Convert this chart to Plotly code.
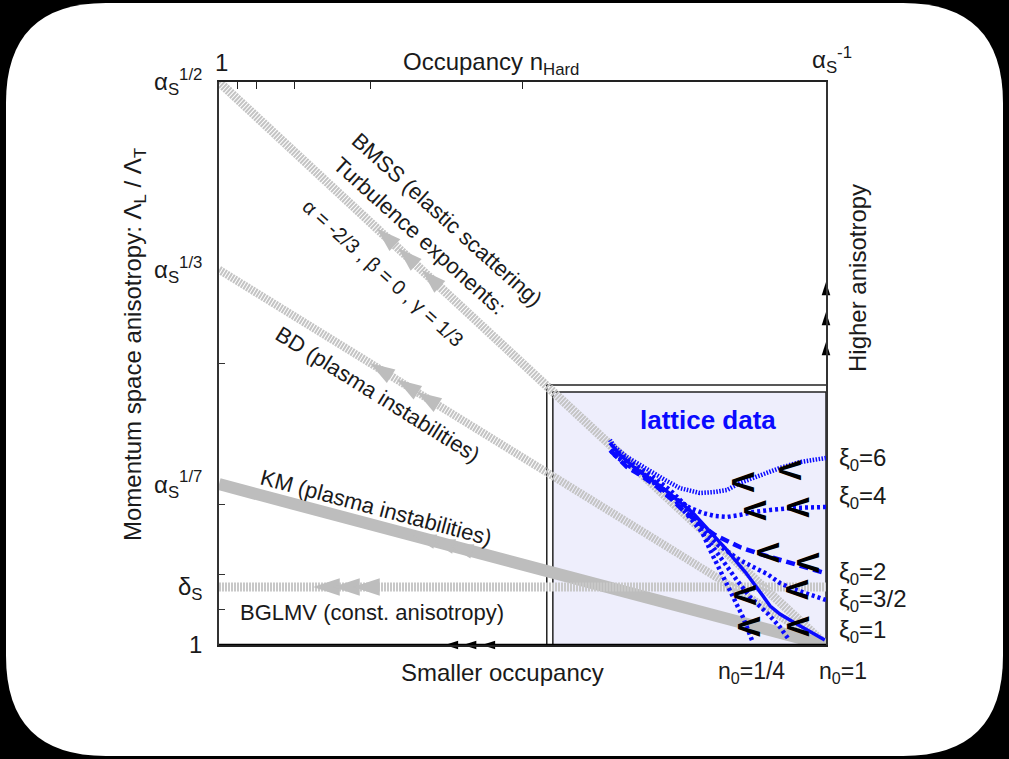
import plotly.graph_objects as go

# ---------------- data ----------------
# x: log(occupancy) / log(1/alpha_s)   (0 -> n=1 ... 1 -> n=alpha_s^-1)
# y: exponent of alpha_s in Lambda_L/Lambda_T (0 -> 1 ... 0.5 -> alpha_s^1/2)
DELTA_S = 0.0515

y_tick_vals = [0.5, 1 / 3, 1 / 7, DELTA_S, 0.0]
y_tick_text = ["α<sub>S</sub><sup>1/2</sup>", "α<sub>S</sub><sup>1/3</sup>",
               "α<sub>S</sub><sup>1/7</sup>", "δ<sub>S</sub>", "1"]
y_minor_ticks = [0.25, 0.125, 0.0625, 0.03125]
x_top_ticks = [1 / 32, 1 / 16, 1 / 8, 1 / 4, 1 / 2]

# theory scenarios (gray)
bmss_x, bmss_y = [0.0, 1.0], [0.5, 0.0]
bd_x, bd_y = [0.0, 1.0], [1 / 3, 0.0]
km_x, km_y = [0.0, 1.0], [1 / 7, 0.0]
bglmv_x, bglmv_y = [0.0, 1.0], [DELTA_S, DELTA_S]

# arrowheads on the scenario lines
bmss_arr_x, bmss_arr_y = [0.260, 0.295, 0.334], [0.370, 0.3525, 0.333]
bd_arr_x, bd_arr_y = [0.249, 0.293, 0.326], [0.2503, 0.2357, 0.2247]
km_arr_x, km_arr_y = [0.320, 0.351, 0.381], [0.0971, 0.0927, 0.0884]
bglmv_arr_x, bglmv_arr_y = [0.155, 0.188, 0.221], [DELTA_S, DELTA_S, DELTA_S]
bottom_arr_x, bottom_arr_y = [0.372, 0.402, 0.433], [0.0, 0.0, 0.0]
right_arr_x, right_arr_y = [1.0, 1.0, 1.0], [0.3224, 0.2957, 0.2691]

# lattice data curves (blue)
xi6_x = [1.0, 0.957, 0.924, 0.891, 0.858, 0.837, 0.817, 0.792, 0.759, 0.735, 0.715, 0.694, 0.672, 0.652, 0.644]
xi6_y = [0.1661, 0.1625, 0.1572, 0.1501, 0.1439, 0.1377, 0.1359, 0.1350, 0.1394, 0.1465, 0.1528, 0.1599, 0.1670, 0.1758, 0.1821]
xi4_x = [1.0, 0.946, 0.908, 0.880, 0.858, 0.837, 0.817, 0.797, 0.776, 0.764, 0.743, 0.722, 0.694, 0.672, 0.652, 0.641]
xi4_y = [0.1226, 0.1217, 0.1199, 0.1181, 0.1155, 0.1137, 0.1146, 0.1172, 0.1217, 0.1261, 0.1332, 0.1430, 0.1536, 0.1599, 0.1687, 0.1750]
xi2_x = [0.993, 0.957, 0.924, 0.886, 0.858, 0.837, 0.817, 0.801, 0.784, 0.764, 0.743, 0.722, 0.694, 0.672, 0.647]
xi2_y = [0.0648, 0.0702, 0.0755, 0.0817, 0.0870, 0.0924, 0.0977, 0.1039, 0.1110, 0.1199, 0.1306, 0.1403, 0.1510, 0.1581, 0.1714]
xi32_x = [1.0, 0.974, 0.946, 0.924, 0.903, 0.880, 0.858, 0.839, 0.822, 0.806, 0.792, 0.776, 0.755, 0.727, 0.694, 0.669, 0.647]
xi32_y = [0.0400, 0.0444, 0.0497, 0.0551, 0.0631, 0.0693, 0.0755, 0.0826, 0.0888, 0.0977, 0.1066, 0.1172, 0.1288, 0.1403, 0.1528, 0.1625, 0.1732]
xi1_x = [0.998, 0.974, 0.946, 0.924, 0.908, 0.895, 0.883, 0.867, 0.850, 0.834, 0.817, 0.801, 0.781, 0.759, 0.735, 0.710, 0.685, 0.661, 0.644]
xi1_y = [0.0044, 0.0115, 0.0204, 0.0275, 0.0346, 0.0444, 0.0533, 0.0648, 0.0755, 0.0861, 0.0959, 0.1057, 0.1172, 0.1270, 0.1377, 0.1474, 0.1572, 0.1687, 0.1794]
nq_a_x = [0.878, 0.863, 0.847, 0.830, 0.809, 0.787, 0.768, 0.743, 0.710, 0.677, 0.647]
nq_a_y = [0.0044, 0.0249, 0.0426, 0.0604, 0.0844, 0.1110, 0.1243, 0.1377, 0.1510, 0.1625, 0.1758]
nq_b_x = [0.937, 0.924, 0.903, 0.875, 0.853, 0.825, 0.797, 0.776, 0.751, 0.718, 0.685, 0.651]
nq_b_y = [0.0062, 0.0160, 0.0284, 0.0426, 0.0577, 0.0782, 0.0995, 0.1128, 0.1288, 0.1448, 0.1572, 0.1714]

# direction-of-evolution chevrons
chev_x = [0.941, 0.862, 0.952, 0.883, 0.970, 0.904, 0.952, 0.867, 0.952, 0.871]
chev_y = [0.1554, 0.1448, 0.1217, 0.1190, 0.0728, 0.0817, 0.0488, 0.0444, 0.0160, 0.0160]

xi_labels = ["ξ<sub>0</sub>=6", "ξ<sub>0</sub>=4", "ξ<sub>0</sub>=2", "ξ<sub>0</sub>=3/2", "ξ<sub>0</sub>=1"]
xi_label_y = [0.1643, 0.1306, 0.0639, 0.0391, 0.0124]

# ---------------- styling helpers ----------------
L, R, T, B = 219, 826, 82, 645
W, H = 1009, 759
Y_MAX = 0.5
FONT = "Liberation Sans, Arial, Helvetica, sans-serif"
TXT = "#1a1a1a"
GRAY = "#bdbdbd"
BLUE = "#0a0aff"


def ppx(px):
    return (px - L) / (R - L)


def ppy(py):
    return (B - py) / (B - T)


fig = go.Figure()


def line(x, y, color, width, dash="solid"):
    fig.add_trace(go.Scatter(x=x, y=y, mode="lines", line=dict(color=color, width=width, dash=dash),
                             showlegend=False, hoverinfo="skip", cliponaxis=False))


def arrows(x, y, angle, size, color):
    fig.add_trace(go.Scatter(x=x, y=y, mode="markers",
                             marker=dict(symbol="arrow", size=size, angle=angle, color=color,
                                         line=dict(width=0)),
                             showlegend=False, hoverinfo="skip", cliponaxis=False))


# gray scenario lines
line(bmss_x, bmss_y, "#c4c4c4", 9, "2px,1px")
line(bd_x, bd_y, "#c4c4c4", 8, "2px,1px")
line(km_x, km_y, GRAY, 12)
line(bglmv_x, bglmv_y, "#c8c8c8", 9, "2px,1px")

arrows(bmss_arr_x, bmss_arr_y, -47, 26, GRAY)
arrows(bd_arr_x, bd_arr_y, -58, 26, GRAY)
arrows(km_arr_x, km_arr_y, -75, 24, GRAY)
arrows(bglmv_arr_x, bglmv_arr_y, -90, 28, GRAY)

# lattice curves
line(xi6_x, xi6_y, BLUE, 4.5, "1.5px,1.5px")
line(xi4_x, xi4_y, BLUE, 4.5, "3px,3px")
line(xi2_x, xi2_y, BLUE, 4.5, "9px,5px")
line(xi32_x, xi32_y, BLUE, 4.5, "3px,3px")
line(nq_a_x, nq_a_y, BLUE, 4.5, "3px,3px")
line(nq_b_x, nq_b_y, BLUE, 4.5, "3px,3px")
line(xi1_x, xi1_y, BLUE, 3.5)

# axis arrows
arrows(bottom_arr_x, bottom_arr_y, -90, 14, "black")
arrows(right_arr_x, right_arr_y, 0, 14, "black")

# invisible trace that carries the top tick axis
fig.add_trace(go.Scatter(x=[0.5], y=[0.1], xaxis="x2", yaxis="y", mode="markers",
                         marker=dict(opacity=0), showlegend=False, hoverinfo="skip"))

# ---------------- shapes ----------------
# rounded white card on a black page
x0, x1, y0, y1, rr = 6, 1003, 3, 756, 100
path = (f"M {ppx(x0 + rr)},{ppy(y0)} L {ppx(x1 - rr)},{ppy(y0)} Q {ppx(x1)},{ppy(y0)} {ppx(x1)},{ppy(y0 + rr)} "
        f"L {ppx(x1)},{ppy(y1 - rr)} Q {ppx(x1)},{ppy(y1)} {ppx(x1 - rr)},{ppy(y1)} "
        f"L {ppx(x0 + rr)},{ppy(y1)} Q {ppx(x0)},{ppy(y1)} {ppx(x0)},{ppy(y1 - rr)} "
        f"L {ppx(x0)},{ppy(y0 + rr)} Q {ppx(x0)},{ppy(y0)} {ppx(x0 + rr)},{ppy(y0)} Z")
shapes = [
    dict(type="path", xref="paper", yref="paper", path=path, fillcolor="white",
         line=dict(width=0), layer="below"),
    # lattice box (double frame)
    dict(type="rect", xref="x", yref="y", x0=0.540, x1=1.004, y0=0, y1=0.231,
         line=dict(color="#222", width=1.5), fillcolor="white", layer="below"),
    dict(type="rect", xref="x", yref="y", x0=0.550, x1=1.0, y0=0, y1=0.2247,
         line=dict(color="#222", width=1.5), fillcolor="#eeeefc", layer="below"),
    # heavier bottom axis
    dict(type="line", xref="x", yref="y", x0=0, x1=1, y0=0, y1=0,
         line=dict(color="black", width=2.5), layer="above"),
]


# ---------------- annotations (paper coordinates) ----------------
def ann(text, x, y, size=22, angle=0, xanchor="center", color=TXT, bold=False):
    return dict(text=text, x=x, y=y, xref="paper", yref="paper", showarrow=False, textangle=angle,
                xanchor=xanchor, yanchor="middle",
                font=dict(family=FONT, size=size, color=color,
                          weight="bold" if bold else "normal"))


annotations = [
    ann("Occupancy n<sub>Hard</sub>", ppx(491), ppy(64), size=24),
    ann("1", ppx(221), ppy(62), size=24),
    ann("α<sub>S</sub><sup>-1</sup>", ppx(832), ppy(60), size=24),
    ann("Momentum space anisotropy: Λ<sub>L</sub> / Λ<sub>T</sub>", ppx(134), ppy(345), size=24, angle=-90),
    ann("Higher anisotropy", ppx(857), ppy(278), size=24, angle=-90),
    ann("Smaller occupancy", ppx(502), ppy(672), size=24),
    ann("n<sub>0</sub>=1/4", ppx(751), ppy(672), size=23),
    ann("n<sub>0</sub>=1", ppx(843), ppy(672), size=23),
    ann("BMSS (elastic scattering)", ppx(447), ppy(219), angle=42),
    ann("Turbulence exponents:", ppx(419), ppy(236), angle=42),
    ann("α = -2/3 , β = 0 , γ = 1/3", ppx(383), ppy(273), size=20, angle=42),
    ann("BD (plasma instabilities)", ppx(378), ppy(394), angle=32),
    ann("KM (plasma instabilities)", ppx(376), ppy(507), angle=15),
    ann("BGLMV (const. anisotropy)", ppx(372), ppy(612)),
    ann("lattice data", ppx(708), ppy(420), size=26, color=BLUE, bold=True),
]
for t, yy in zip(xi_labels, xi_label_y):
    annotations.append(ann(t, ppx(837), yy / Y_MAX, size=24, xanchor="left"))

# chevrons: a bold "V" turned a quarter clockwise reads as "<"
for cx, cy in zip(chev_x, chev_y):
    annotations.append(dict(text="V", x=cx, y=cy, xref="x", yref="y", showarrow=False, textangle=90,
                            xanchor="center", yanchor="middle",
                            font=dict(family=FONT, size=31, color="black", weight="bold")))

fig.update_layout(
    width=W, height=H,
    margin=dict(l=L, r=W - R, t=T, b=H - B, pad=0),
    paper_bgcolor="black",
    plot_bgcolor="rgba(0,0,0,0)",
    shapes=shapes,
    annotations=annotations,
    showlegend=False,
    xaxis=dict(range=[0, 1], showline=True, linecolor="#222", linewidth=1.5, mirror=True,
               ticks="", showticklabels=False, showgrid=False, zeroline=False, fixedrange=True),
    xaxis2=dict(range=[0, 1], overlaying="x", side="top", anchor="y", showline=False,
                ticks="inside", tickvals=x_top_ticks, ticklen=7, tickcolor="#222", tickwidth=1.3,
                showticklabels=False, showgrid=False, zeroline=False, fixedrange=True),
    yaxis=dict(range=[0, Y_MAX], showline=True, linecolor="#333", linewidth=1.5, mirror=True,
               ticks="", tickvals=y_tick_vals, ticktext=y_tick_text, ticklabelstandoff=10,
               tickfont=dict(family=FONT, size=24, color=TXT),
               minor=dict(tickvals=y_minor_ticks, ticks="inside", ticklen=6, tickcolor="#333",
                          tickwidth=1.3),
               showgrid=False, zeroline=False, fixedrange=True),
)

fig.write_html("out.html", config={"displayModeBar": False},
               post_script="document.body.style.margin='0';document.body.style.background='black';")
